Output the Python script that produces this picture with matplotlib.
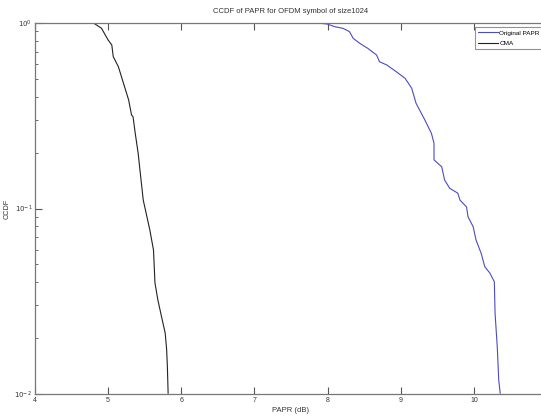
import matplotlib
matplotlib.use('Agg')
import matplotlib.pyplot as plt
import numpy as np

# CCDF curves
papr_orig = [7.85, 7.99, 8.10, 8.21, 8.30, 8.35, 8.44, 8.55, 8.67, 8.71, 8.81, 8.94,
             9.06, 9.15, 9.21, 9.33, 9.42, 9.455, 9.455, 9.56, 9.60, 9.67, 9.78, 9.81,
             9.90, 9.92, 9.99, 10.03, 10.10, 10.15, 10.22, 10.28, 10.29, 10.32, 10.34, 10.36]
ccdf_orig = [1.0, 0.988, 0.955, 0.936, 0.898, 0.827, 0.777, 0.730, 0.672, 0.618, 0.594, 0.546,
             0.503, 0.445, 0.369, 0.300, 0.254, 0.225, 0.183, 0.168, 0.1425, 0.1285, 0.121, 0.111,
             0.102, 0.0903, 0.0798, 0.0676, 0.0573, 0.0485, 0.0448, 0.0403, 0.0272, 0.0180, 0.0119, 0.0101]

papr_cma = [4.80, 4.91, 4.96, 5.00, 5.05, 5.07, 5.14, 5.21, 5.28, 5.32, 5.34, 5.37,
            5.41, 5.43, 5.48, 5.53, 5.57, 5.62, 5.64, 5.68, 5.73, 5.78, 5.80, 5.81, 5.82]
ccdf_cma = [1.0, 0.936, 0.862, 0.810, 0.761, 0.658, 0.581, 0.473, 0.385, 0.319, 0.313, 0.255,
            0.199, 0.168, 0.111, 0.0903, 0.0766, 0.0597, 0.0397, 0.0321, 0.0261, 0.0213, 0.0173,
            0.0140, 0.0101]

plt.rcParams['font.family'] = ['Liberation Sans', 'DejaVu Sans']
fig = plt.figure(figsize=(5.41, 4.18), dpi=100)
# axes run past the right edge of the picture, like the cropped original
ax = fig.add_axes([35/541, 1 - 394/418, 512/541, 371/418])

ax.semilogy(papr_orig, ccdf_orig, color='#4b4bc4', lw=0.8, label='Original PAPR')
ax.semilogy(papr_cma, ccdf_cma, color='#222222', lw=0.8, label='CMA')

ax.set_xlim(4, 11)
ax.set_ylim(1e-2, 1)
ax.set_xticks(np.arange(4, 11, 1))
ax.set_yticks([1e-2, 1e-1, 1])
ax.set_yticklabels([r'$10^{-2}$', r'$10^{-1}$', r'$10^{0}$'])

for s in ax.spines.values():
    s.set_color('#777777')
    s.set_linewidth(0.9)
ax.tick_params(which='both', direction='in', top=True, right=False,
               colors='#555555', labelcolor='#333333', labelsize=5, pad=2)
ax.tick_params(which='major', length=5, width=0.8)
ax.tick_params(which='minor', length=2.5, width=0.6)

ax.set_title('CCDF of PAPR for OFDM symbol of size1024', fontsize=5.5, color='#333333', pad=7)
ax.set_xlabel('PAPR (dB)', fontsize=5.5, color='#333333', labelpad=2)
ax.set_ylabel('CCDF', fontsize=5.2, color='#333333')
ax.yaxis.set_label_coords(-24/512, 0.5)

leg = fig.legend(loc='upper left', bbox_to_anchor=(475/541, 1 - 27/418),
                 fontsize=4.6, frameon=True, fancybox=False, handlelength=3.1,
                 handletextpad=0.2, borderpad=0.5, labelspacing=0.8, borderaxespad=0)
leg.get_frame().set_edgecolor('#777777')
leg.get_frame().set_linewidth(0.8)

fig.savefig('out.png', dpi=100)
